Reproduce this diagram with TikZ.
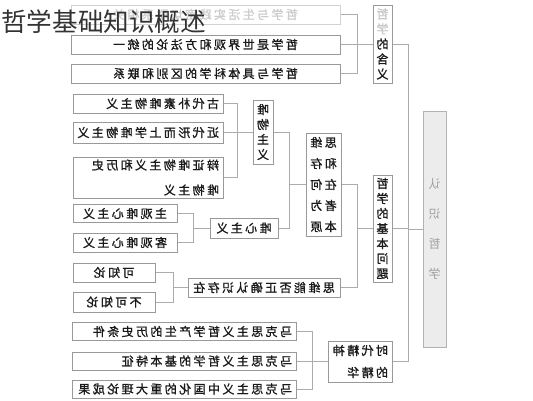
\documentclass[tikz,border=0pt]{standalone}
\usepackage{fontspec}
\usepackage{graphicx}
\newfontfamily\cjk[LetterSpace=20,FakeBold=1.2]{Noto Sans CJK SC}
\newfontfamily\cjklight{Noto Sans CJK SC}
\newfontfamily\cjktitle{Noto Sans CJK SC}
% mirrored texts, as the picture shows them
\newcommand\mir[1]{\reflectbox{#1}}
\newcommand\rmir[2]{\reflectbox{\makebox[#1][l]{\hspace{4pt}#2}}}
\newcommand\vcol[2]{\reflectbox{\parbox{#1}{\centering #2}}}
\newcommand\lrows[2]{\reflectbox{\parbox{#1}{\raggedright\leftskip=4pt #2}}}

\begin{document}
\begin{tikzpicture}[x=1pt, y=-1pt,
  box/.style = {draw=gray!80, line width=1pt, fill=white, inner sep=0pt, text=black!90,
    font=\cjk\fontsize{12}{15}\selectfont},
  fade/.style = {box, draw=gray!35, text=gray!40},
  link/.style = {draw=gray!65, line width=0.7pt}]
\fill[white] (0,0) rectangle (533,400);
\useasboundingbox (0,0) rectangle (533,400);

% hanyi
\node[fade, minimum width=269pt, minimum height=19pt] (b1) at (205.5,14.5) {\mir{哲学与生活实践密切联系相关}};
\node[box, minimum width=269pt, minimum height=19pt] (b2) at (205.5,44.5) {\mir{哲学是世界观和方法论的统一}};
\node[box, minimum width=269pt, minimum height=19pt] (b3) at (205.5,73.5) {\mir{哲学与具体科学的区别和联系}};
\node[box, minimum width=19pt, minimum height=78pt] (hanyi) at (382.5,44) {\vcol{1em}{\textcolor{gray!45}{哲\\学}\\的\\含\\义}};

% root
\node[box, fill=gray!15, draw=gray!60, text=gray!75, minimum width=23pt, minimum height=236pt,
  font=\cjklight\fontsize{12}{30}\selectfont] (renshi) at (434.5,229) {\vcol{1em}{认\\识\\哲\\学}};

% jiben wenti
\node[box, minimum width=19pt, minimum height=107pt] (jiben) at (382.5,228.5) {\vcol{1em}{哲\\学\\的\\基\\本\\问\\题}};
\node[box, minimum width=35pt, minimum height=103pt, font=\cjk\fontsize{12}{21}\selectfont] (benyuan) at (323.5,184.5) {\vcol{32pt}{思维\\和存\\在何\\者为\\本原}};
\node[box, minimum width=20pt, minimum height=64pt] (weiwu) at (263,132) {\vcol{1em}{唯\\物\\主\\义}};
\node[box, minimum width=150pt, minimum height=19pt] (gudai) at (148,103.5) {\rmir{150pt}{古代朴素唯物主义}};
\node[box, minimum width=150pt, minimum height=21pt] (jindai) at (148,132.5) {\rmir{150pt}{近代形而上学唯物主义}};
\node[box, minimum width=150pt, minimum height=41pt, font=\cjk\fontsize{12}{25}\selectfont] (bianzheng) at (148,177.5) {\lrows{150pt}{辩证唯物主义和历史\\唯物主义}};
\node[box, minimum width=68pt, minimum height=20pt] (weixin) at (244,228) {\mir{唯心主义}};
\node[box, minimum width=104pt, minimum height=18pt] (zhuguan) at (125,213.5) {\mir{主观唯心主义}};
\node[box, minimum width=104pt, minimum height=19pt] (keguan) at (125,242.5) {\mir{客观唯心主义}};
\node[box, minimum width=152pt, minimum height=19pt] (siwei) at (264,287.5) {\mir{思维能否正确认识存在}};
\node[box, minimum width=82pt, minimum height=19pt] (kezhi) at (114,272.5) {\mir{可知论}};
\node[box, minimum width=82pt, minimum height=20pt] (bukezhi) at (114,302) {\mir{不可知论}};

% jinghua
\node[box, minimum width=224pt, minimum height=18pt] (m1) at (184,331.5) {\rmir{224pt}{马克思主义哲学产生的历史条件}};
\node[box, minimum width=224pt, minimum height=18pt] (m2) at (184,361) {\rmir{224pt}{马克思主义哲学的基本特征}};
\node[box, minimum width=224pt, minimum height=18pt] (m3) at (184,389) {\rmir{224pt}{马克思主义中国化的重大理论成果}};
\node[box, minimum width=64pt, minimum height=41pt, font=\cjk\fontsize{12}{22}\selectfont] (jinghua) at (360,361.5) {\lrows{64pt}{时代精神\\的精华}};

% brackets
\coordinate (j0) at (408,0);
\coordinate (j1) at (357,0);
\coordinate (j3) at (289,0);
\coordinate (j4) at (237,0);
\coordinate (j5) at (193,0);
\coordinate (j6) at (173,0);
\coordinate (j7) at (312,0);
\foreach \c in {b1,b2,b3} \draw[link] (\c.east) -- (\c.east -| j1) |- (hanyi.west);
\foreach \c in {hanyi,jiben,jinghua} \draw[link] (\c.east) -- (\c.east -| j0) |- (renshi.west);
\foreach \c in {benyuan,siwei} \draw[link] (\c.east) -- (\c.east -| j1) |- (jiben.west);
\foreach \c in {weiwu,weixin} \draw[link] (\c.east) -- (\c.east -| j3) |- (benyuan.west);
\foreach \c in {gudai,jindai,bianzheng} \draw[link] (\c.east) -- (\c.east -| j4) |- (weiwu.west);
\foreach \c in {zhuguan,keguan} \draw[link] (\c.east) -- (\c.east -| j5) |- (weixin.west);
\foreach \c in {kezhi,bukezhi} \draw[link] (\c.east) -- (\c.east -| j6) |- (siwei.west);
\foreach \c in {m1,m2,m3} \draw[link] (\c.east) -- (\c.east -| j7) |- (jinghua.west);

% title
\node[anchor=base west, inner sep=0pt, text=black!80, font=\cjktitle\fontsize{25.6}{30}\selectfont] (title) at (1,31) {哲学基础知识概述};
\end{tikzpicture}
\end{document}
